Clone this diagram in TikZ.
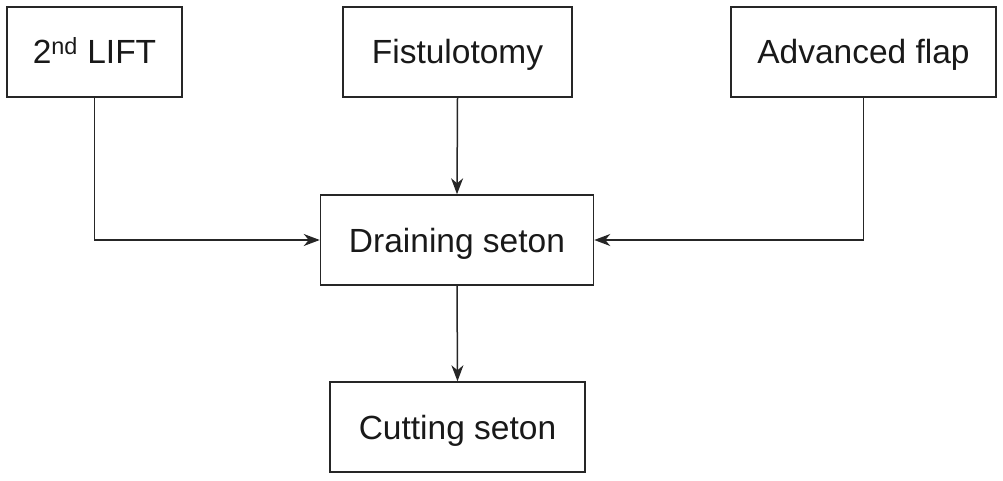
\documentclass[tikz,border=0pt]{standalone}
\usepackage{fontspec}
\setmainfont{Liberation Sans}
\usetikzlibrary{arrows.meta}
\begin{document}
\begin{tikzpicture}[x=1pt,y=-1pt,
  box/.style={draw=black!85, line width=1.5pt, minimum height=90pt, inner sep=0pt,
    text height=24pt, text depth=0pt,
    font=\fontsize{33.5}{40}\selectfont, text=black!90},
  conn/.style={line width=1.5pt, draw=black!85, -{Stealth[length=16pt,width=12pt,inset=5pt]}}]
\useasboundingbox (0,0) rectangle (1003,481);
\node[box, minimum width=175pt] (lift) at (94.5,52) {2\textsuperscript{nd} LIFT};
\node[box, minimum width=229pt] (fist) at (457.5,52) {Fistulotomy};
\node[box, minimum width=265pt] (flap) at (863.5,52) {Advanced flap};
\node[box, minimum width=273pt] (drain) at (457,240) {Draining seton};
\node[box, minimum width=255pt] (cut) at (457.5,427) {Cutting seton};
\draw[conn] (lift.south) |- (drain.west);
\draw[conn] (fist.south) -- (drain.north);
\draw[conn] (flap.south) |- (drain.east);
\draw[conn] (drain.south) -- (cut.north);
\end{tikzpicture}
\end{document}
